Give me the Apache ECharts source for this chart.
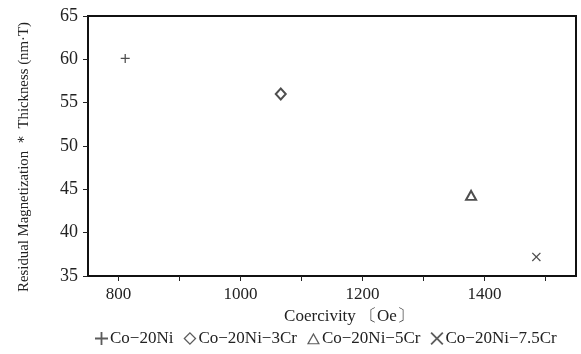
<!DOCTYPE html>
<html><head><meta charset="utf-8">
<script src="https://cdn.jsdelivr.net/npm/echarts@6/dist/echarts.min.js"></script>
<style>html,body{margin:0;padding:0;background:#fff}#c{width:581px;height:354px}</style>
</head><body><div id="c"></div>
<script>
const seriesNames = ['Co\u221220Ni', 'Co\u221220Ni\u22123Cr', 'Co\u221220Ni\u22125Cr', 'Co\u221220Ni\u22127.5Cr'];
const coercivity = [811, 1066, 1378, 1485];
const mrt = [60.1, 56.0, 44.3, 37.2];
const xTicks = [800, 900, 1000, 1100, 1200, 1300, 1400, 1500];
const xLabels = [800, 1000, 1200, 1400];

const plusPath = 'path://M4.3,0H5.7V4.3H10V5.7H5.7V10H4.3V5.7H0V4.3H4.3Z';
const crossPath = 'path://M1,0L5,4L9,0L10,1L6,5L10,9L9,10L5,6L1,10L0,9L4,5L0,1Z';
const symbols = [plusPath, 'emptyDiamond', 'emptyTriangle', crossPath];
const sizes = [[9, 9], [10, 11], [10, 9], [9, 9]];
const legendIcons = [plusPath, 'path://M5,0L10,5L5,10L0,5ZM5,1.4L1.4,5L5,8.6L8.6,5Z', 'path://M5,0L10,9H0ZM5,2L1.6,8.1H8.4Z', 'path://M1,0L5,4L9,0L10,1L6,5L10,9L9,10L5,6L1,10L0,9L4,5L0,1Z'];

const serif = '"Liberation Serif", "DejaVu Serif", serif';
const chart = echarts.init(document.getElementById('c'));
chart.setOption({
  animation: false,
  grid: { left: 88, right: 5, top: 16, bottom: 78, show: true, borderColor: '#111', borderWidth: 2 },
  xAxis: {
    type: 'value', min: 750, max: 1550,
    name: 'Coercivity \u3014Oe\u3015', nameLocation: 'middle', nameGap: 32,
    nameTextStyle: { fontFamily: serif, fontSize: 17, color: '#222', padding: [0, 0, 0, 34] },
    axisLine: { show: true, lineStyle: { color: '#111', width: 2 } },
    axisTick: { show: true, length: 5, customValues: xTicks, lineStyle: { color: '#222' } },
    axisLabel: { customValues: xLabels, formatter: v => String(v), fontFamily: serif, fontSize: 17, color: '#222', margin: 10 },
    splitLine: { show: false }
  },
  yAxis: {
    type: 'value', min: 35, max: 65, interval: 5,
    name: 'Residual Magnetization \uff0a Thickness (nm\u00b7T)', nameLocation: 'middle', nameGap: 56,
    nameTextStyle: { fontFamily: serif, fontSize: 14.8, color: '#222', padding: [0, 22, 0, 0] },
    axisLine: { show: true, lineStyle: { color: '#111', width: 2 } },
    axisTick: { show: true, length: 5, lineStyle: { color: '#222' } },
    axisLabel: { fontFamily: serif, fontSize: 18, color: '#222', margin: 10 },
    splitLine: { show: false }
  },
  legend: {
    bottom: 2, left: 90, itemGap: 10, itemWidth: 13, itemHeight: 13,
    textStyle: { fontFamily: serif, fontSize: 17, color: '#222', padding: [0, 0, 0, -3] },
    data: seriesNames.map((n, i) => ({ name: n, icon: legendIcons[i], itemStyle: { color: '#333', borderWidth: 0 } }))
  },
  series: seriesNames.map((n, i) => ({
    type: 'scatter', name: n,
    data: [[coercivity[i], mrt[i]]],
    symbol: symbols[i], symbolSize: sizes[i],
    itemStyle: { color: '#222', borderColor: '#222', borderWidth: (i === 1 || i === 2) ? 1.6 : 0 }
  }))
});
</script></body></html>
